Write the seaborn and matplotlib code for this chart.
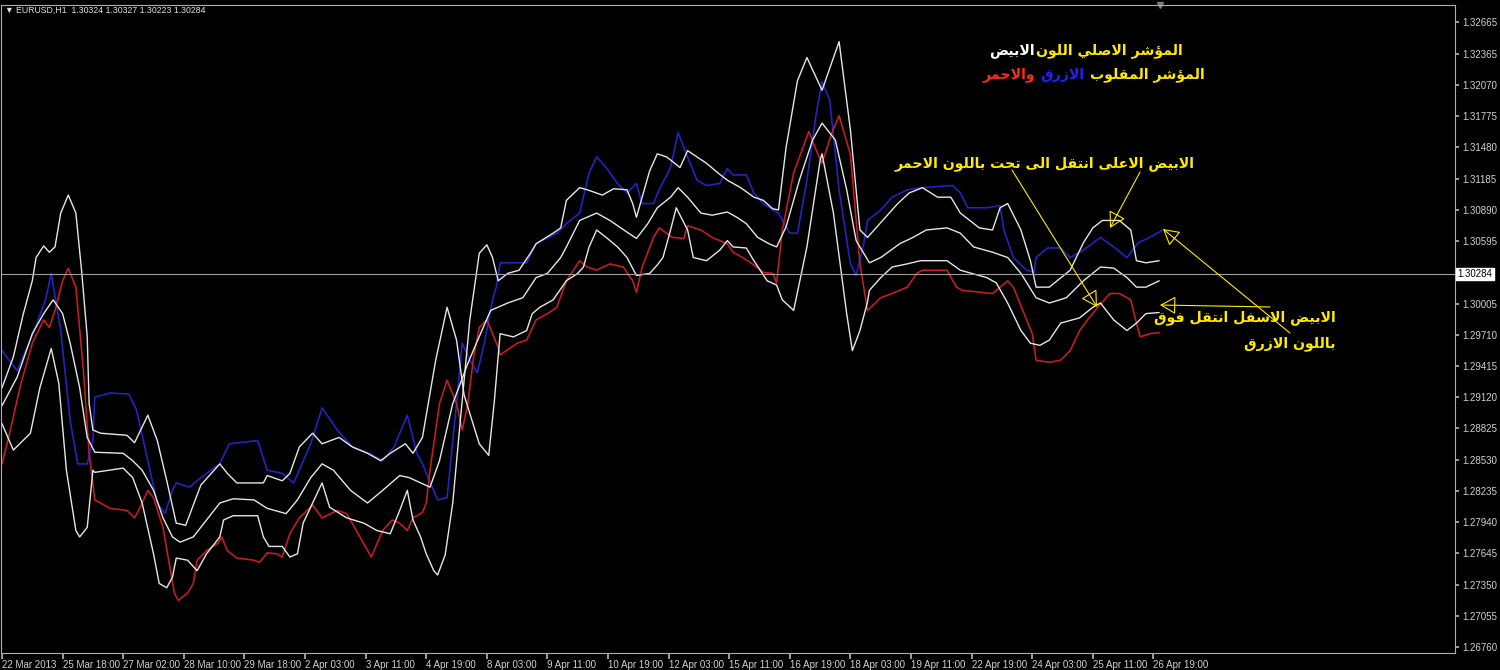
import matplotlib
matplotlib.use('Agg')
import matplotlib.pyplot as plt
import seaborn as sns

# values: x = H1 bar index, y = EURUSD price
blue_bar = [0, 8, 17, 23, 26, 31, 36, 40, 45, 48, 49, 57, 67, 71, 77, 82, 86, 90, 92, 99,
            105, 115, 120, 135, 140, 148, 154, 163, 169, 177, 185, 194, 201, 207, 214, 219, 222, 230, 235, 240,
            243, 247, 251, 255, 259, 261, 263, 277, 282, 293, 298, 305, 310, 314, 319, 325, 330, 335, 338, 344,
            347, 353, 357, 362, 367, 372, 379, 383, 386, 393, 397, 402, 407, 410, 416, 420, 425, 430, 433, 437,
            442, 448, 451, 455, 457, 464, 470, 478, 486, 502, 506, 510, 520, 527, 529, 534, 541, 545, 546, 552,
            559, 564, 571, 580, 587, 594, 600, 606, 613]
blue_val = [1.2956, 1.2937, 1.2975, 1.3004, 1.3029, 1.2975, 1.2890, 1.2849, 1.2849, 1.2871,
            1.2912, 1.2916, 1.2915, 1.2900, 1.2852, 1.2812, 1.2802, 1.2824, 1.2831, 1.2827,
            1.2836, 1.2849, 1.2868, 1.2871, 1.2843, 1.2840, 1.2831, 1.2868, 1.2902, 1.2881,
            1.2865, 1.2859, 1.2852, 1.2865, 1.2895, 1.2859, 1.2849, 1.2815, 1.2817, 1.2906,
            1.2963, 1.2947, 1.2935, 1.2966, 1.3004, 1.3016, 1.3039, 1.3039, 1.3057, 1.3067,
            1.3076, 1.3086, 1.3124, 1.3139, 1.3129, 1.3114, 1.3105, 1.3114, 1.3095, 1.3095,
            1.3108, 1.3129, 1.3162, 1.3139, 1.3117, 1.3112, 1.3114, 1.3128, 1.3122, 1.3122,
            1.3105, 1.3095, 1.3089, 1.3086, 1.3067, 1.3067, 1.3117, 1.3181, 1.3210, 1.3193,
            1.3108, 1.3038, 1.3027, 1.3057, 1.3079, 1.3089, 1.3101, 1.3108, 1.3110, 1.3112,
            1.3105, 1.3091, 1.3091, 1.3093, 1.3070, 1.3044, 1.3032, 1.3030, 1.3044, 1.3053,
            1.3053, 1.3044, 1.3051, 1.3063, 1.3054, 1.3044, 1.3058, 1.3063, 1.3070]

red_bar = [0, 4, 10, 16, 22, 25, 28, 32, 35, 39, 43, 46, 49, 57, 66, 70, 73, 77, 80, 85,
           89, 91, 93, 98, 101, 103, 108, 114, 116, 119, 124, 133, 136, 140, 145, 148, 152, 157, 164, 169,
           177, 182, 189, 195, 201, 206, 210, 214, 217, 222, 224, 226, 231, 235, 240, 243, 246, 249, 252, 256,
           262, 263, 272, 277, 282, 288, 293, 298, 305, 309, 314, 321, 328, 333, 335, 338, 344, 347, 354, 360,
           362, 369, 375, 383, 386, 391, 397, 402, 407, 409, 412, 418, 426, 430, 433, 438, 442, 448, 453, 457,
           464, 470, 478, 483, 486, 499, 504, 507, 523, 527, 531, 534, 539, 544, 546, 553, 559, 564, 569, 574,
           580, 585, 590, 596, 599, 601, 606, 611]
red_val = [1.2849, 1.2878, 1.2925, 1.2963, 1.2985, 1.2978, 1.2994, 1.3022, 1.3034, 1.3016,
           1.2937, 1.2859, 1.2815, 1.2807, 1.2805, 1.2798, 1.2808, 1.2824, 1.2817, 1.2789,
           1.2748, 1.2727, 1.2720, 1.2727, 1.2736, 1.2758, 1.2767, 1.2774, 1.2780, 1.2767,
           1.2760, 1.2758, 1.2756, 1.2765, 1.2764, 1.2761, 1.2783, 1.2798, 1.2810, 1.2798,
           1.2805, 1.2802, 1.2780, 1.2761, 1.2786, 1.2796, 1.2793, 1.2786, 1.2798, 1.2803,
           1.2812, 1.2843, 1.2906, 1.2928, 1.2906, 1.2881, 1.2906, 1.2950, 1.2978, 1.2985,
           1.2959, 1.2952, 1.2963, 1.2966, 1.2985, 1.2991, 1.2997, 1.3022, 1.3041, 1.3035,
           1.3032, 1.3038, 1.3035, 1.3022, 1.3011, 1.3035, 1.3063, 1.3072, 1.3063, 1.3062,
           1.3074, 1.3070, 1.3063, 1.3057, 1.3049, 1.3044, 1.3037, 1.3030, 1.3029, 1.3020,
           1.3070, 1.3124, 1.3163, 1.3145, 1.3133, 1.3161, 1.3178, 1.3141, 1.3038, 1.2994,
           1.3006, 1.3010, 1.3016, 1.3029, 1.3032, 1.3032, 1.3016, 1.3013, 1.3010, 1.3016,
           1.3022, 1.3016, 1.2994, 1.2972, 1.2947, 1.2945, 1.2947, 1.2956, 1.2975, 1.2987,
           1.3000, 1.3010, 1.3010, 1.3004, 1.2982, 1.2969, 1.2972, 1.2973]

# the three white lines of the original indicator (they swap places at the spikes)
white_a_bar = [0, 6, 11, 16, 18, 22, 25, 28, 31, 35, 39, 42, 45, 46, 48, 52, 66, 70, 77, 82,
               87, 92, 97, 105, 115, 119, 124, 138, 140, 148, 152, 157, 164, 169, 178, 185, 193, 200, 205, 213,
               217, 222, 229, 235, 240, 244, 252, 257, 260, 263, 270, 277, 280, 284, 291, 298, 304, 307, 310, 314,
               319, 325, 330, 335, 342, 346, 349, 353, 356, 362, 365, 372, 379, 383, 386, 393, 397, 404, 409, 412,
               418, 425, 432, 433, 439, 446, 449, 453, 457, 458, 464, 470, 478, 485, 499, 506, 520, 525, 531, 538,
               543, 548, 553, 559, 569, 576, 580, 587, 594, 599, 604, 611]
white_a_val = [1.2921, 1.2950, 1.2989, 1.3022, 1.3044, 1.3055, 1.3049, 1.3054, 1.3086, 1.3103,
               1.3086, 1.3032, 1.2969, 1.2906, 1.2881, 1.2878, 1.2876, 1.2869, 1.2895, 1.2871,
               1.2833, 1.2793, 1.2791, 1.2829, 1.2849, 1.2840, 1.2831, 1.2831, 1.2838, 1.2833,
               1.2840, 1.2865, 1.2878, 1.2868, 1.2874, 1.2865, 1.2859, 1.2852, 1.2859, 1.2868,
               1.2859, 1.2874, 1.2947, 1.2997, 1.2966, 1.2914, 1.2868, 1.2857, 1.2909, 1.2972,
               1.2969, 1.2975, 1.2991, 1.2997, 1.3004, 1.3022, 1.3029, 1.3035, 1.3054, 1.3070,
               1.3063, 1.3054, 1.3044, 1.3027, 1.3029, 1.3037, 1.3044, 1.3070, 1.3091, 1.3070,
               1.3044, 1.3041, 1.3051, 1.3060, 1.3054, 1.3053, 1.3041, 1.3022, 1.3018, 1.3004,
               1.2994, 1.3054, 1.3136, 1.3142, 1.3086, 1.2991, 1.2956, 1.2975, 1.3002, 1.3013,
               1.3025, 1.3035, 1.3038, 1.3041, 1.3041, 1.3032, 1.3025, 1.3020, 1.3001, 1.2975,
               1.2963, 1.2961, 1.2966, 1.2982, 1.2987, 1.2997, 1.3001, 1.2985, 1.2975, 1.2982,
               1.2991, 1.2992]

white_m_bar = [0, 8, 16, 22, 27, 32, 36, 41, 45, 49, 64, 69, 74, 80, 85, 90, 94, 101, 108, 115,
               122, 133, 140, 150, 156, 163, 169, 175, 184, 193, 201, 210, 215, 226, 231, 238, 246, 250, 258, 267,
               275, 282, 288, 295, 298, 305, 314, 321, 330, 335, 341, 346, 353, 357, 362, 369, 375, 383, 388, 393,
               399, 405, 409, 414, 421, 428, 433, 440, 446, 451, 458, 464, 474, 481, 488, 499, 506, 513, 523, 531,
               538, 546, 553, 562, 571, 580, 587, 594, 599, 604, 611]
white_m_val = [1.2904, 1.2931, 1.2972, 1.2991, 1.3004, 1.2991, 1.2963, 1.2921, 1.2874, 1.2860,
               1.2859, 1.2852, 1.2843, 1.2824, 1.2798, 1.2780, 1.2775, 1.2780, 1.2796, 1.2812,
               1.2816, 1.2815, 1.2807, 1.2802, 1.2815, 1.2836, 1.2849, 1.2843, 1.2824, 1.2812,
               1.2824, 1.2838, 1.2836, 1.2827, 1.2852, 1.2906, 1.2944, 1.2961, 1.2994, 1.3001,
               1.3006, 1.3025, 1.3029, 1.3044, 1.3054, 1.3079, 1.3086, 1.3079, 1.3068, 1.3062,
               1.3076, 1.3091, 1.3101, 1.3110, 1.3101, 1.3086, 1.3084, 1.3087, 1.3082, 1.3076,
               1.3063, 1.3057, 1.3054, 1.3073, 1.3117, 1.3155, 1.3171, 1.3155, 1.3108, 1.3060,
               1.3039, 1.3044, 1.3057, 1.3063, 1.3070, 1.3072, 1.3067, 1.3054, 1.3049, 1.3044,
               1.3029, 1.3006, 1.3001, 1.3006, 1.3022, 1.3035, 1.3034, 1.3025, 1.3016, 1.3016,
               1.3022]

white_b_bar = [0, 6, 15, 20, 26, 30, 34, 39, 41, 45, 48, 49, 64, 69, 74, 80, 83, 87, 90, 92,
               98, 103, 108, 115, 117, 122, 135, 138, 141, 148, 152, 156, 159, 164, 169, 173, 182, 191, 198, 205,
               210, 214, 217, 221, 224, 228, 230, 234, 238, 242, 247, 252, 256, 259, 262, 267, 273, 279, 282, 291,
               295, 298, 305, 309, 317, 323, 330, 333, 335, 338, 342, 346, 351, 358, 362, 367, 372, 378, 383, 390,
               397, 402, 407, 410, 414, 420, 425, 433, 442, 448, 453, 457, 465, 473, 479, 486, 494, 501, 506, 516,
               523, 527, 531, 538, 543, 546, 553, 564, 571, 576, 581, 590, 596, 599, 604, 611]
white_b_val = [1.2887, 1.2862, 1.2878, 1.2921, 1.2958, 1.2925, 1.2843, 1.2786, 1.2780, 1.2789,
               1.2843, 1.2841, 1.2845, 1.2836, 1.2812, 1.2764, 1.2736, 1.2732, 1.2742, 1.2760,
               1.2758, 1.2748, 1.2764, 1.2780, 1.2796, 1.2800, 1.2800, 1.2780, 1.2771, 1.2771,
               1.2761, 1.2764, 1.2793, 1.2812, 1.2831, 1.2808, 1.2798, 1.2793, 1.2786, 1.2783,
               1.2805, 1.2824, 1.2796, 1.2780, 1.2764, 1.2748, 1.2744, 1.2763, 1.2812, 1.2890,
               1.2985, 1.3048, 1.3056, 1.3044, 1.3022, 1.3029, 1.3032, 1.3048, 1.3057, 1.3067,
               1.3072, 1.3098, 1.3110, 1.3108, 1.3103, 1.3109, 1.3108, 1.3095, 1.3082, 1.3101,
               1.3126, 1.3142, 1.3139, 1.3129, 1.3145, 1.3139, 1.3133, 1.3124, 1.3117, 1.3110,
               1.3101, 1.3098, 1.3090, 1.3089, 1.3148, 1.3211, 1.3233, 1.3202, 1.3248, 1.3164,
               1.3070, 1.3063, 1.3079, 1.3095, 1.3105, 1.3110, 1.3101, 1.3101, 1.3086, 1.3072,
               1.3070, 1.3091, 1.3095, 1.3070, 1.3041, 1.3016, 1.3016, 1.3032, 1.3058, 1.3072,
               1.3079, 1.3079, 1.3070, 1.3041, 1.3039, 1.3041]

x_tick_bars = [0, 32, 64, 96, 128, 160, 192, 224, 256, 288, 320, 352, 384, 416, 448, 480, 512, 544, 576, 608]
x_tick_labels = ['22 Mar 2013', '25 Mar 18:00', '27 Mar 02:00', '28 Mar 10:00', '29 Mar 18:00',
                 '2 Apr 03:00', '3 Apr 11:00', '4 Apr 19:00', '8 Apr 03:00', '9 Apr 11:00',
                 '10 Apr 19:00', '12 Apr 03:00', '15 Apr 11:00', '16 Apr 19:00', '18 Apr 03:00',
                 '19 Apr 11:00', '22 Apr 19:00', '24 Apr 03:00', '25 Apr 11:00', '26 Apr 19:00']
y_tick_vals = [1.32665, 1.32365, 1.32070, 1.31775, 1.31480, 1.31185, 1.30890, 1.30595,
               1.30005, 1.29710, 1.29415, 1.29120, 1.28825, 1.28530, 1.28235, 1.27940,
               1.27645, 1.27350, 1.27055, 1.26760]
last_price = 1.30284
header = '\u25BC EURUSD,H1  1.30324 1.30327 1.30223 1.30284'

YELLOW = '#ffea00'

# minimal arabic shaping: contextual forms + right-to-left order
AR_FORMS = {
    'ا': (0xFE8D, 0xFE8E), 'ؤ': (0xFE85, 0xFE86), 'ر': (0xFEAD, 0xFEAE),
    'ز': (0xFEAF, 0xFEB0), 'و': (0xFEED, 0xFEEE), 'ى': (0xFEEF, 0xFEF0),
    'لا': (0xFEFB, 0xFEFC),
    'ب': (0xFE8F, 0xFE90, 0xFE91, 0xFE92), 'ت': (0xFE95, 0xFE96, 0xFE97, 0xFE98),
    'ح': (0xFEA1, 0xFEA2, 0xFEA3, 0xFEA4), 'س': (0xFEB1, 0xFEB2, 0xFEB3, 0xFEB4),
    'ش': (0xFEB5, 0xFEB6, 0xFEB7, 0xFEB8), 'ص': (0xFEB9, 0xFEBA, 0xFEBB, 0xFEBC),
    'ض': (0xFEBD, 0xFEBE, 0xFEBF, 0xFEC0), 'ع': (0xFEC9, 0xFECA, 0xFECB, 0xFECC),
    'ف': (0xFED1, 0xFED2, 0xFED3, 0xFED4), 'ق': (0xFED5, 0xFED6, 0xFED7, 0xFED8),
    'ل': (0xFEDD, 0xFEDE, 0xFEDF, 0xFEE0), 'م': (0xFEE1, 0xFEE2, 0xFEE3, 0xFEE4),
    'ن': (0xFEE5, 0xFEE6, 0xFEE7, 0xFEE8), 'ي': (0xFEF1, 0xFEF2, 0xFEF3, 0xFEF4),
}


def shape_ar(text):
    tokens = []
    i = 0
    while i < len(text):
        if text[i] == 'ل' and i + 1 < len(text) and text[i + 1] == 'ا':
            tokens.append('لا')
            i += 2
        else:
            tokens.append(text[i])
            i += 1
    out = []
    for k, tok in enumerate(tokens):
        forms = AR_FORMS.get(tok)
        if forms is None:
            out.append(tok)
            continue
        prev = AR_FORMS.get(tokens[k - 1]) if k > 0 else None
        nxt = AR_FORMS.get(tokens[k + 1]) if k + 1 < len(tokens) else None
        jp = prev is not None and len(prev) == 4
        jn = len(forms) == 4 and nxt is not None
        if jp and jn:
            out.append(chr(forms[3]))
        elif jp:
            out.append(chr(forms[1]))
        elif jn:
            out.append(chr(forms[2]))
        else:
            out.append(chr(forms[0]))
    return ''.join(reversed(out))


sns.set_theme(style='dark', rc={'axes.facecolor': 'black', 'figure.facecolor': 'black',
                                'axes.edgecolor': '#b0b0b0', 'axes.linewidth': 0.8})
plt.rcParams['font.family'] = ['Liberation Sans', 'DejaVu Sans']

fig = plt.figure(figsize=(15, 6.7), dpi=100)
ax = fig.add_axes([1 / 1500, 17 / 670, 1454 / 1500, 648 / 670])

# inverted indicator first, original (white) on top
sns.lineplot(x=blue_bar, y=blue_val, color='#2424c8', lw=1.15, ax=ax, estimator=None, sort=False)
sns.lineplot(x=red_bar, y=red_val, color='#c81e1e', lw=1.15, ax=ax, estimator=None, sort=False)
for xs, ys in [(white_a_bar, white_a_val), (white_m_bar, white_m_val), (white_b_bar, white_b_val)]:
    sns.lineplot(x=xs, y=ys, color='#e6e6e6', lw=1.0, ax=ax, estimator=None, sort=False)

ax.axhline(last_price, color='#a0a0a0', lw=0.8)

ax.set_xlim(-0.53, 767.2)
ax.set_ylim(1.26703, 1.32826)
ax.set_xlabel('')
ax.set_ylabel('')
ax.grid(False)

ax.yaxis.tick_right()
ax.set_yticks(y_tick_vals)
ax.set_yticklabels([f'{v:.5f}' for v in y_tick_vals])
ax.set_xticks(x_tick_bars)
ax.set_xticklabels(x_tick_labels)
for lbl in ax.get_xticklabels():
    lbl.set_horizontalalignment('left')
ax.tick_params(axis='y', which='both', right=True, left=False, direction='out', length=3,
               color='#b0b0b0', labelcolor='#d0d0d0', labelsize=7, pad=2)
ax.tick_params(axis='x', which='both', bottom=True, direction='out', length=4,
               color='#b0b0b0', labelcolor='#d0d0d0', labelsize=7, pad=1)

# current price tag on the axis
ax.text(1.0015, last_price, f'{last_price:.5f}', transform=ax.get_yaxis_transform(),
        ha='left', va='center', fontsize=7, color='black',
        bbox=dict(boxstyle='square,pad=0.15', fc='white', ec='white'), clip_on=False)

ax.text(0.003, 0.992, header, transform=ax.transAxes, ha='left', va='center',
        fontsize=6.3, color='#e0e0e0')
ax.plot([611.4], [1.0], marker='v', ms=5, color='#7a7a7a', transform=ax.get_xaxis_transform(),
        clip_on=False)

# annotations
arfont = dict(family=['DejaVu Sans'], weight='bold', fontsize=10.2)
t1 = ax.text(0.813, 0.930, shape_ar('المؤشر الاصلي اللون'), transform=ax.transAxes,
             ha='right', va='center', color=YELLOW, **arfont)
ax.annotate(shape_ar('الابيض'), xy=(0, 0.5), xycoords=t1, xytext=(-1, 0), textcoords='offset points',
            ha='right', va='center', color='white', **arfont)
t2 = ax.text(0.828, 0.892, shape_ar('المؤشر المقلوب'), transform=ax.transAxes,
             ha='right', va='center', color=YELLOW, **arfont)
t3 = ax.annotate(shape_ar('الازرق'), xy=(0, 0.5), xycoords=t2, xytext=(-4, 0), textcoords='offset points',
                 ha='right', va='center', color='#2020ff', **arfont)
ax.annotate(shape_ar('والاحمر'), xy=(0, 0.5), xycoords=t3, xytext=(-4, 0), textcoords='offset points',
            ha='right', va='center', color='#ff2a1a', **arfont)

ax.text(0.821, 0.756, shape_ar('الابيض الاعلى انتقل الى تحت باللون الاحمر'), transform=ax.transAxes,
        ha='right', va='center', color=YELLOW, **arfont)
ax.text(0.918, 0.517, shape_ar('الابيض الاسفل انتقل فوق'), transform=ax.transAxes,
        ha='right', va='center', color=YELLOW, **arfont)
ax.text(0.918, 0.478, shape_ar('باللون الازرق'), transform=ax.transAxes,
        ha='right', va='center', color=YELLOW, **arfont)

arrows = [((0.6953, 0.7454), (0.7538, 0.5340)),
          ((0.7834, 0.7423), (0.7627, 0.6559)),
          ((0.8865, 0.4938), (0.7992, 0.6543)),
          ((0.8728, 0.5340), (0.7971, 0.5370))]
for start, end in arrows:
    ax.annotate('', xy=end, xytext=start, xycoords='axes fraction', textcoords='axes fraction',
                arrowprops=dict(arrowstyle='-|>,head_length=0.7,head_width=0.4', mutation_scale=14,
                                ec=YELLOW, fc='none', lw=0.8, shrinkA=0, shrinkB=0))

fig.savefig('out.png', dpi=100, facecolor='black')
